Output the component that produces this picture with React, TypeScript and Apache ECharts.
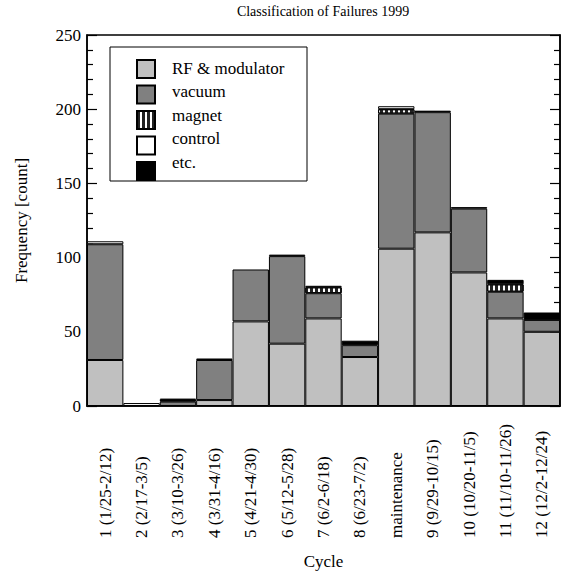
import React, { useEffect, useRef } from "react";
import * as echarts from "echarts";

const categories = [
  "1 (1/25-2/12)",
  "2 (2/17-3/5)",
  "3 (3/10-3/26)",
  "4 (3/31-4/16)",
  "5 (4/21-4/30)",
  "6 (5/12-5/28)",
  "7 (6/2-6/18)",
  "8 (6/23-7/2)",
  "maintenance",
  "9 (9/29-10/15)",
  "10 (10/20-11/5)",
  "11 (11/10-11/26)",
  "12 (12/2-12/24)",
];

const seriesNames = ["RF & modulator", "vacuum", "magnet", "control", "etc."];

const rfModulator = [31, 0, 0, 4, 57, 42, 59, 33, 106, 117, 90, 59, 50];
const vacuum = [78, 0, 3, 27, 35, 59, 17, 8, 91, 81, 43, 18, 8];
const magnet = [0, 0, 1, 0, 0, 0, 4, 0, 3, 0, 0, 5, 0];
const control = [2, 2, 1, 1, 0, 1, 1, 0, 2, 0, 0, 0, 0];
const etc = [0, 0, 0, 0, 0, 0, 0, 3, 0, 1, 1, 3, 5];

const yTicks = [0, 50, 100, 150, 200, 250];

const FONT = "Liberation Serif";

export default function App() {
  const ref = useRef<HTMLDivElement>(null);
  useEffect(() => {
    if (!ref.current) return;
    const chart = echarts.init(ref.current, null, { renderer: "svg" });
    const toData = (arr: number[]) => arr.map((v) => (v === 0 ? null : v));
    const base = {
      type: "bar",
      stack: "total",
      barCategoryGap: "0%",
      xAxisIndex: 0,
      yAxisIndex: 0,
    };
    const yAxisCommon = {
      type: "value",
      min: yTicks[0],
      max: yTicks[yTicks.length - 1],
      interval: 50,
      splitLine: { show: false },
      minorSplitLine: { show: false },
      axisLine: { show: true, lineStyle: { color: "#000", width: 1.5 } },
      axisTick: { show: true, inside: true, length: 10, lineStyle: { color: "#000", width: 1.2 } },
      minorTick: { show: true, splitNumber: 5, length: 6, lineStyle: { color: "#000", width: 1.2 } },
    };
    const legendLeft = 136;
    const legendTop = 59;
    const legendPitch = 23.5;
    chart.setOption({
      animation: false,
      backgroundColor: "#fff",
      textStyle: { fontFamily: FONT, color: "#000" },
      title: {
        text: "Classification of Failures 1999",
        left: 323,
        textAlign: "center",
        top: 4,
        padding: 0,
        textStyle: { fontFamily: FONT, fontSize: 14, fontWeight: "normal", color: "#000" },
      },
      legend: {
        orient: "vertical",
        left: legendLeft,
        top: legendTop,
        padding: 0,
        itemWidth: 18,
        itemHeight: 18,
        itemGap: legendPitch - 18,
        icon: "rect",
        selectedMode: false,
        formatter: () => "",
        textStyle: { fontSize: 10 },
        data: seriesNames,
        z: 10,
      },
      graphic: [
        {
          type: "rect",
          z: 5,
          shape: { x: 110, y: 47, width: 197, height: 134 },
          style: { fill: "#fff", stroke: "#000", lineWidth: 1 },
        },
        ...seriesNames.map((n, i) => ({
          type: "text",
          z: 11,
          x: 172,
          y: legendTop + 9 + i * legendPitch,
          style: {
            text: n,
            fontFamily: FONT,
            fontSize: 17,
            fontWeight: "normal",
            fontStyle: "normal",
            fill: "#000",
            verticalAlign: "middle",
            align: "left",
          },
        })),
      ],
      grid: {
        left: 87,
        right: 14,
        top: 35,
        bottom: 167.5,
        show: true,
        borderColor: "#000",
        borderWidth: 1.5,
        backgroundColor: "transparent",
      },
      xAxis: {
        type: "category",
        data: categories,
        name: "Cycle",
        nameLocation: "middle",
        nameGap: 147,
        nameTextStyle: { fontFamily: FONT, fontSize: 17, color: "#000" },
        axisLine: { show: true, lineStyle: { color: "#000", width: 1.5 } },
        axisTick: { show: false },
        axisLabel: {
          interval: 0,
          rotate: 90,
          align: "left",
          margin: 132,
          fontFamily: FONT,
          fontSize: 17,
          color: "#000",
        },
      },
      yAxis: [
        {
          ...yAxisCommon,
          position: "left",
          name: "Frequency [count]",
          nameLocation: "middle",
          nameGap: 57,
          nameTextStyle: { fontFamily: FONT, fontSize: 17, color: "#000" },
          axisLabel: { margin: 6, fontFamily: FONT, fontSize: 17, color: "#000" },
        },
        {
          ...yAxisCommon,
          position: "right",
          axisLabel: { show: false },
        },
      ],
      series: [
        {
          ...base,
          name: seriesNames[0],
          data: toData(rfModulator),
          itemStyle: { color: "#c0c0c0", borderColor: "#000", borderWidth: 1 },
        },
        {
          ...base,
          name: seriesNames[1],
          data: toData(vacuum),
          itemStyle: { color: "#808080", borderColor: "#000", borderWidth: 1 },
        },
        {
          ...base,
          name: seriesNames[2],
          data: toData(magnet),
          itemStyle: {
            color: "#fff",
            borderColor: "#000",
            borderWidth: 1,
            decal: {
              symbol: "rect",
              symbolSize: 1,
              color: "#222",
              backgroundColor: "#fff",
              dashArrayX: [3, 2],
              dashArrayY: [2, 0],
              rotation: 0,
            },
          },
        },
        {
          ...base,
          name: seriesNames[3],
          data: toData(control),
          itemStyle: { color: "#fff", borderColor: "#000", borderWidth: 1 },
        },
        {
          ...base,
          name: seriesNames[4],
          data: toData(etc),
          itemStyle: { color: "#000", borderColor: "#000", borderWidth: 1 },
        },
      ],
    });
    return () => chart.dispose();
  }, []);
  return (
    <div
      ref={ref}
      style={{ position: "fixed", left: 0, top: 0, width: 574, height: 575 }}
    />
  );
}
